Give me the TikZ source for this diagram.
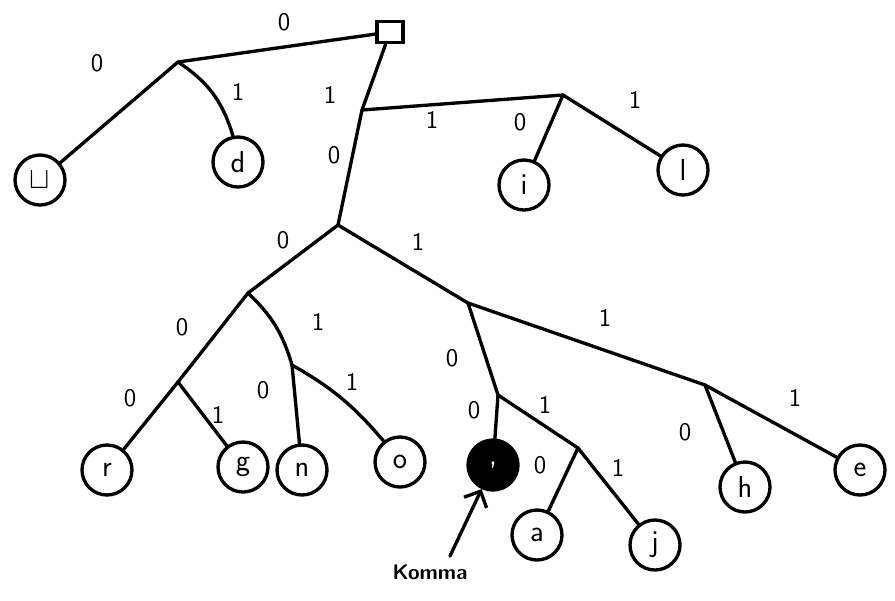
\documentclass[tikz,border=0pt]{standalone}
\usepackage{tikz}
\usetikzlibrary{arrows.meta}

\begin{document}
\begin{tikzpicture}[x=0.02cm, y=-0.02cm, line width=1.9pt, line cap=round,
    leaf/.style={draw, circle, line width=1.9pt, minimum size=1cm, inner sep=0pt, font=\LARGE\sffamily},
    bit/.style={font=\Large\sffamily}]
  \useasboundingbox (0,0) rectangle (895,600);
  % root and inner nodes
  \node[draw, line width=1.9pt, minimum width=0.52cm, minimum height=0.42cm, inner sep=0pt] (root) at (390,32) {};
  \coordinate (n0) at (178,62);
  \coordinate (n1) at (362,110);
  \coordinate (n10) at (338,225);
  \coordinate (n11) at (563,95);
  \coordinate (n100) at (248,293);
  \coordinate (n101) at (468,303);
  \coordinate (n1000) at (178,382);
  \coordinate (n1001) at (292,365);
  \coordinate (n1010) at (498,395);
  \coordinate (n1011) at (705,385);
  \coordinate (n10101) at (578,448);
  % leaves
  \node[leaf] (space) at (40,180) {$\sqcup$};
  \node[leaf] (d) at (238,162) {d};
  \node[leaf] (i) at (524,185) {i};
  \node[leaf] (l) at (683,170) {l};
  \node[leaf] (r) at (107,470) {r};
  \node[leaf] (g) at (243,467) {g};
  \node[leaf] (n) at (302,470) {n};
  \node[leaf] (o) at (400,462) {o};
  \node[leaf, fill=black, text=white] (comma) at (493,465) {,};
  \node[leaf] (a) at (537,535) {a};
  \node[leaf] (j) at (655,545) {j};
  \node[leaf] (h) at (745,487) {h};
  \node[leaf] (e) at (860,470) {e};
  % edges
  \draw (root) -- (n0);
  \draw (root) -- (n1);
  \draw (n0) -- (space);
  \draw (n0) to[bend left=20] (d);
  \draw (n1) -- (n10);
  \draw (n1) -- (n11);
  \draw (n11) -- (i);
  \draw (n11) -- (l);
  \draw (n10) -- (n100);
  \draw (n10) -- (n101);
  \draw (n100) -- (n1000);
  \draw (n100) to[bend left=15] (n1001);
  \draw (n1000) -- (r);
  \draw (n1000) -- (g);
  \draw (n1001) -- (n);
  \draw (n1001) to[bend left=10] (o);
  \draw (n101) -- (n1010);
  \draw (n101) -- (n1011);
  \draw (n1010) -- (comma);
  \draw (n1010) -- (n10101);
  \draw (n10101) -- (a);
  \draw (n10101) -- (j);
  \draw (n1011) -- (h);
  \draw (n1011) -- (e);
  % bit labels
  \node[bit] (b0) at (284,22) {0};
  \node[bit] (b1) at (330,95) {1};
  \node[bit] (b00) at (97,63) {0};
  \node[bit] (b01) at (238,92) {1};
  \node[bit] (b10) at (334,155) {0};
  \node[bit] (b11) at (432,120) {1};
  \node[bit] (b110) at (520,122) {0};
  \node[bit] (b111) at (635,100) {1};
  \node[bit] (b100) at (283,240) {0};
  \node[bit] (b101) at (418,242) {1};
  \node[bit] (b1000) at (182,327) {0};
  \node[bit] (b1001) at (318,322) {1};
  \node[bit] (b10000) at (130,398) {0};
  \node[bit] (b10001) at (218,415) {1};
  \node[bit] (b10010) at (263,390) {0};
  \node[bit] (b10011) at (352,382) {1};
  \node[bit] (b1010) at (452,358) {0};
  \node[bit] (b1011) at (605,318) {1};
  \node[bit] (b10100) at (474,410) {0};
  \node[bit] (b10101) at (545,405) {1};
  \node[bit] (b101010) at (540,465) {0};
  \node[bit] (b101011) at (618,468) {1};
  \node[bit] (b10110) at (685,432) {0};
  \node[bit] (b10111) at (795,398) {1};
  % comma note
  \node[font=\large\sffamily\bfseries] (komma) at (430,572) {Komma};
  \coordinate (kstart) at (450,556);
  \draw[-{Straight Barb[length=2.5mm]}] (kstart) -- (comma);
\end{tikzpicture}
\end{document}
